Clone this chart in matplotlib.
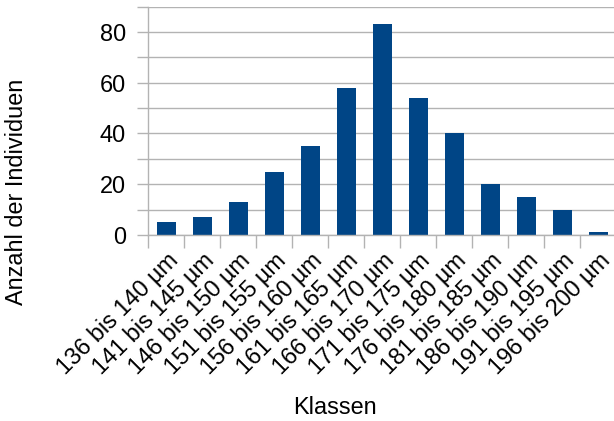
import matplotlib
matplotlib.use("Agg")
import matplotlib.pyplot as plt
from matplotlib.ticker import MultipleLocator, FixedLocator

# Klassen (Größenklassen) und Anzahl der Individuen
klassen = ["136 bis 140 µm", "141 bis 145 µm", "146 bis 150 µm", "151 bis 155 µm",
           "156 bis 160 µm", "161 bis 165 µm", "166 bis 170 µm", "171 bis 175 µm",
           "176 bis 180 µm", "181 bis 185 µm", "186 bis 190 µm", "191 bis 195 µm",
           "196 bis 200 µm"]
anzahl = [5, 7, 13, 25, 35, 58, 83, 54, 40, 20, 15, 10, 1]

plt.rcParams['font.family'] = ['Liberation Sans', 'DejaVu Sans']
FS = 16.9
GRAY = '#b3b3b3'

fig = plt.figure(figsize=(6.14, 4.21), dpi=100)
W, H = 614, 421
ax = fig.add_axes([148.3 / W, 1 - 235 / H, 1 - 148.3 / W, (235 - 6.6) / H])

x = list(range(len(klassen)))
ax.bar(x, anzahl, width=0.53, color='#004586', zorder=3)

ax.set_ylim(0, 90)
ax.set_xlim(-0.5, 12.44)
ax.yaxis.set_major_locator(MultipleLocator(20))
ax.yaxis.set_minor_locator(MultipleLocator(10))
ax.grid(axis='y', which='both', color=GRAY, linewidth=1, zorder=0)

ax.set_xticks(x)
ax.set_xticklabels(klassen, rotation=45, ha='right', rotation_mode='anchor', fontsize=FS)
ax.xaxis.set_minor_locator(FixedLocator([i - 0.5 for i in range(len(klassen) + 1)]))
ax.tick_params(axis='x', which='major', length=0, pad=10)
ax.tick_params(axis='x', which='minor', length=9, color=GRAY, width=1)
ax.tick_params(axis='y', which='both', length=8, color=GRAY, width=1, labelsize=FS, pad=8)

for s in ['top', 'right']:
    ax.spines[s].set_visible(False)
for s in ['left', 'bottom']:
    ax.spines[s].set_color(GRAY)
    ax.spines[s].set_linewidth(1)
    ax.spines[s].set_zorder(4)

fig.text(335 / W, 1 - 408 / H, "Klassen", ha='center', va='center', fontsize=FS)
fig.text(17 / W, 1 - 192 / H, "Anzahl der Individuen", ha='center', va='center',
         rotation=90, fontsize=FS)

fig.savefig("out.png", dpi=100)
